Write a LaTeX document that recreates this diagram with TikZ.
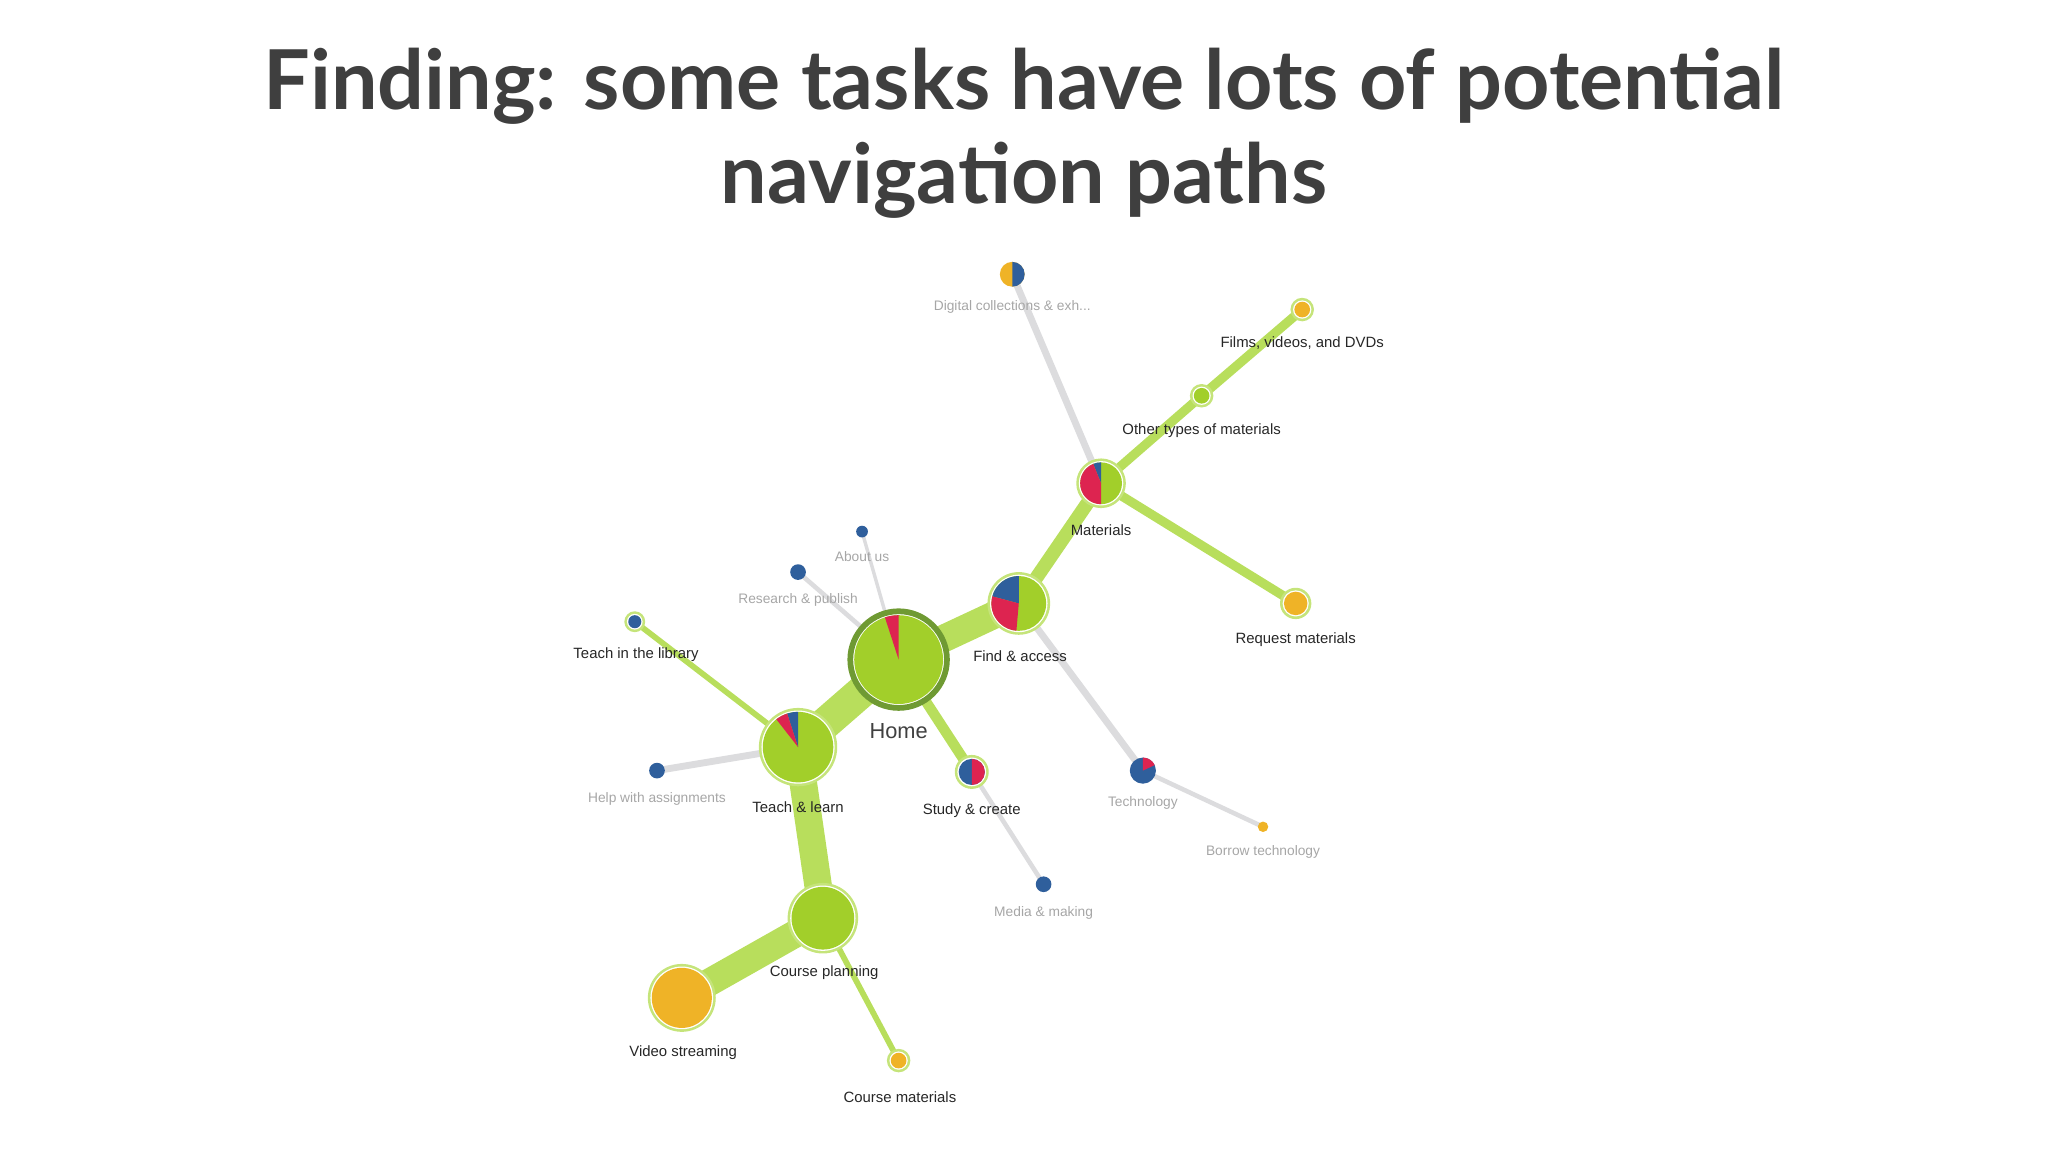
\documentclass[tikz,border=0pt]{standalone}
\usepackage{fontspec}
\setmainfont{Lato}
\newfontfamily\lbl{Liberation Sans}
\definecolor{gr}{HTML}{A2CF2A}
\definecolor{edg}{HTML}{B8DE5C}
\definecolor{ring}{HTML}{C5E47A}
\definecolor{rd}{HTML}{DD2450}
\definecolor{bl}{HTML}{2F5F9C}
\definecolor{yl}{HTML}{EFB327}
\definecolor{gy}{HTML}{DCDCDE}
\definecolor{dring}{HTML}{6F9A33}
\definecolor{ttl}{HTML}{3F3F3F}
\newcommand\pieslice[5]{\fill[#5] (#1) -- ++(#2:#4) arc[start angle=#2,end angle=#3,radius=#4] -- cycle;}
\newcommand\ringed[3]{\fill[ring] (#1) circle[radius=#2+3]; \fill[white] (#1) circle[radius=#2+1]; \fill[#3] (#1) circle[radius=#2];}
\tikzset{
 lab/.style={font=\lbl\fontsize{6.5}{7}\selectfont, text=black!85, inner sep=0pt},
 glab/.style={font=\lbl\fontsize{6}{7}\selectfont, text=black!35, inner sep=0pt},
 ge/.style={draw=edg, line cap=round},
 ye/.style={draw=gy, line cap=round},
}
\begin{document}
\begin{tikzpicture}[x=0.02cm,y=0.02cm]
\useasboundingbox (0,0) rectangle (1568,-882);
\node[font=\bfseries\fontsize{36}{40}\selectfont, text=ttl] (t1) at (784,-66) {Finding: some tasks have lots of potential};
\node[font=\bfseries\fontsize{36}{40}\selectfont, text=ttl] (t2) at (784,-138) {navigation paths};
% coordinates
\coordinate (home) at (688,-505);
\coordinate (find) at (780,-462);
\coordinate (mat) at (843,-370);
\coordinate (teach) at (611,-572);
\coordinate (study) at (744,-591);
\coordinate (tech) at (875,-590);
\coordinate (cp) at (630,-703);
\coordinate (video) at (522,-764);
\coordinate (cm) at (688,-812);
\coordinate (lib) at (486,-476);
\coordinate (help) at (503,-590);
\coordinate (res) at (611,-438);
\coordinate (about) at (660,-407);
\coordinate (dig) at (775,-210);
\coordinate (films) at (997,-237);
\coordinate (other) at (920,-303);
\coordinate (req) at (992,-462);
\coordinate (borrow) at (967,-633);
\coordinate (media) at (799,-677);
% edges
\draw[ye, line width=3] (mat) -- (dig);
\draw[ye, line width=3] (find) -- (tech);
\draw[ye, line width=2] (tech) -- (borrow);
\draw[ye, line width=2] (study) -- (media);
\draw[ye, line width=3] (teach) -- (help);
\draw[ye, line width=2] (home) -- (res);
\draw[ye, line width=1.5] (home) -- (about);
\draw[ge, line width=12] (home) -- (find);
\draw[ge, line width=14] (home) -- (teach);
\draw[ge, line width=12] (teach) -- (cp);
\draw[ge, line width=12] (cp) -- (video);
\draw[ge, line width=6] (find) -- (mat);
\draw[ge, line width=4] (mat) -- (other);
\draw[ge, line width=4] (other) -- (films);
\draw[ge, line width=4] (mat) -- (req);
\draw[ge, line width=4.5] (home) -- (study);
\draw[ge, line width=2.5] (teach) -- (lib);
\draw[ge, line width=2.5] (cp) -- (cm);
% nodes
\fill[white] (home) circle[radius=38];
\draw[dring, line width=2.5] (home) circle[radius=37];
\fill[gr] (home) circle[radius=34];
\pieslice{home}{90}{108}{34}{rd}
\ringed{find}{21}{gr}
\pieslice{find}{90}{165}{21}{bl}
\pieslice{find}{165}{265}{21}{rd}
\ringed{mat}{16}{gr}
\pieslice{mat}{90}{112}{16}{bl}
\pieslice{mat}{112}{270}{16}{rd}
\ringed{teach}{27}{gr}
\pieslice{teach}{90}{108}{27}{bl}
\pieslice{teach}{108}{128}{27}{rd}
\ringed{study}{10}{bl}
\pieslice{study}{-90}{90}{10}{rd}
\fill[bl] (tech) circle[radius=10];
\pieslice{tech}{25}{90}{10}{rd}
\ringed{cp}{24}{gr}
\ringed{video}{23}{yl}
\ringed{cm}{6}{yl}
\ringed{lib}{5}{bl}
\fill[bl] (help) circle[radius=6];
\fill[bl] (res) circle[radius=6];
\fill[bl] (about) circle[radius=4.5];
\fill[yl] (dig) circle[radius=9.5];
\pieslice{dig}{-90}{90}{9.5}{bl}
\ringed{films}{6}{yl}
\ringed{other}{6}{gr}
\ringed{req}{9}{yl}
\fill[yl] (borrow) circle[radius=4];
\fill[bl] (media) circle[radius=6];
% labels
\node[lab, font=\lbl\fontsize{9.5}{11}\selectfont, text=black!75] (lhome) at (688,-560) {Home};
\node[lab] (lfind) at (781,-502) {Find \& access};
\node[lab] (lmat) at (843,-406) {Materials};
\node[lab] (lteach) at (611,-618) {Teach \& learn};
\node[lab] (lstudy) at (744,-621) {Study \& create};
\node[glab] (ltech) at (875,-615) {Technology};
\node[lab] (lcp) at (631,-745) {Course planning};
\node[lab] (lvideo) at (523,-806) {Video streaming};
\node[lab] (lcm) at (689,-840) {Course materials};
\node[lab] (llib) at (487,-501) {Teach in the library};
\node[glab] (lhelp) at (503,-612) {Help with assignments};
\node[glab] (lres) at (611,-459) {Research \& publish};
\node[glab] (labout) at (660,-426) {About us};
\node[glab] (ldig) at (775,-235) {Digital collections \& exh...};
\node[lab] (lfilms) at (997,-263) {Films, videos, and DVDs};
\node[lab] (lother) at (920,-330) {Other types of materials};
\node[lab] (lreq) at (992,-490) {Request materials};
\node[glab] (lborrow) at (967,-652) {Borrow technology};
\node[glab] (lmedia) at (799,-699) {Media \& making};
\end{tikzpicture}
\end{document}
